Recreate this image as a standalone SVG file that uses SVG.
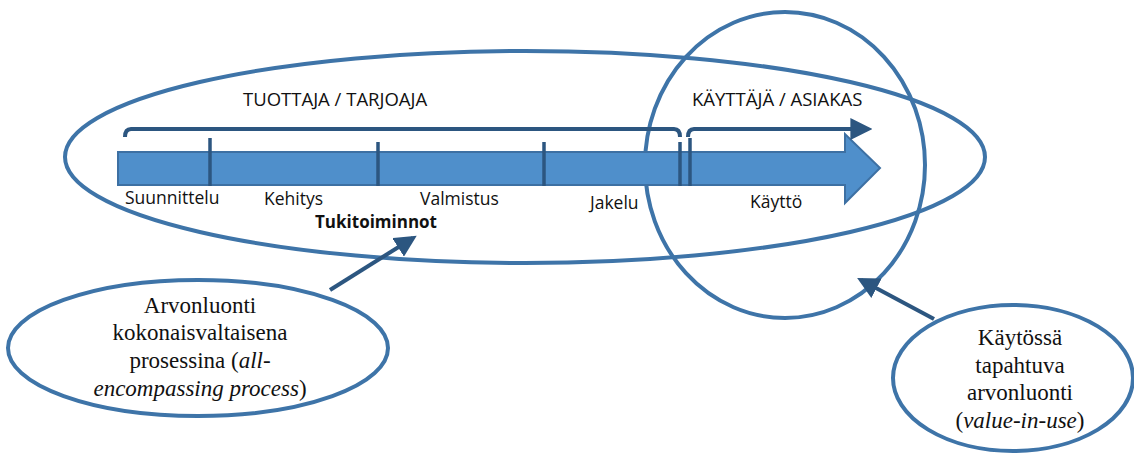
<svg xmlns="http://www.w3.org/2000/svg" width="1134" height="454" viewBox="0 0 1134 454">
  <style>
    .ring { fill: none; stroke: #3e74a8; stroke-width: 4; }
    .dark { fill: none; stroke: #2c5680; stroke-width: 4; }
    .tick { stroke: #2c5680; stroke-width: 3.5; }
    .sans { font-family: "Open Sans", "Liberation Sans", sans-serif; fill: #111; }
    .label { font-size: 17.5px; }
    .head { font-size: 18.5px; }
    .serif { font-family: "Liberation Serif", "Times New Roman", serif; fill: #111; font-size: 23px; text-anchor: middle; }
  </style>
  <defs>
    <marker id="head" viewBox="0 0 10 10" refX="8" refY="5" markerWidth="5.5" markerHeight="5.5" orient="auto" markerUnits="strokeWidth">
      <path d="M0,0 L10,5 L0,10 z" fill="#2c5680"/>
    </marker>
  </defs>

  <!-- producer / provider scope -->
  <g id="producer">
    <ellipse class="ring" cx="525" cy="157" rx="460" ry="106"/>
    <text class="sans head" x="243" y="106">TUOTTAJA / TARJOAJA</text>
  </g>

  <!-- user / customer scope -->
  <g id="user">
    <ellipse class="ring" cx="785" cy="165" rx="140" ry="153"/>
    <text class="sans head" x="692" y="106">KÄYTTÄJÄ / ASIAKAS</text>
  </g>

  <!-- value chain bar -->
  <g id="chain">
    <path d="M118,152 L845,152 L845,134 L880,168 L845,203 L845,185 L118,185 Z" fill="#4f8fcb" stroke="#3d70a3" stroke-width="2"/>
    <line class="tick" x1="210" y1="138" x2="210" y2="186"/>
    <line class="tick" x1="378" y1="142" x2="378" y2="186"/>
    <line class="tick" x1="544" y1="142" x2="544" y2="186"/>
    <line class="tick" x1="680" y1="142" x2="680" y2="186"/>
    <line class="tick" x1="690" y1="138" x2="690" y2="186"/>
    <text class="sans label" x="125" y="204">Suunnittelu</text>
    <text class="sans label" x="264" y="205">Kehitys</text>
    <text class="sans label" x="420" y="205">Valmistus</text>
    <text class="sans label" x="590" y="209">Jakelu</text>
    <text class="sans label" x="750" y="208">Käyttö</text>
    <text class="sans" x="315" y="228" font-size="17px" font-weight="bold">Tukitoiminnot</text>
  </g>

  <!-- scope brackets -->
  <g id="brackets">
    <path class="dark" d="M125,137 Q125,129 131,129 L674,129 Q680,129 680,137" stroke-width="3.5"/>
    <path class="dark" d="M688,137 Q688,129 694,129 L868,129" stroke-width="3.5" marker-end="url(#head)"/>
  </g>

  <!-- callout: all-encompassing process -->
  <g id="all-encompassing">
    <ellipse class="ring" cx="198" cy="348" rx="190" ry="68"/>
    <text class="serif" x="200" y="313">Arvonluonti</text>
    <text class="serif" x="200" y="340">kokonaisvaltaisena</text>
    <text class="serif" x="200" y="368">prosessina (<tspan font-style="italic">all-</tspan></text>
    <text class="serif" x="200" y="396"><tspan font-style="italic">encompassing process</tspan>)</text>
  </g>

  <!-- callout: value-in-use -->
  <g id="value-in-use">
    <ellipse class="ring" cx="1013" cy="378" rx="120" ry="73"/>
    <text class="serif" x="1020" y="345">Käytössä</text>
    <text class="serif" x="1020" y="373">tapahtuva</text>
    <text class="serif" x="1020" y="400">arvonluonti</text>
    <text class="serif" x="1020" y="428">(<tspan font-style="italic">value-in-use</tspan>)</text>
  </g>

  <!-- connectors -->
  <g id="connectors">
    <line class="dark" x1="330" y1="290" x2="413" y2="238" marker-end="url(#head)"/>
    <line class="dark" x1="934" y1="319" x2="861" y2="280" marker-end="url(#head)"/>
  </g>
</svg>
